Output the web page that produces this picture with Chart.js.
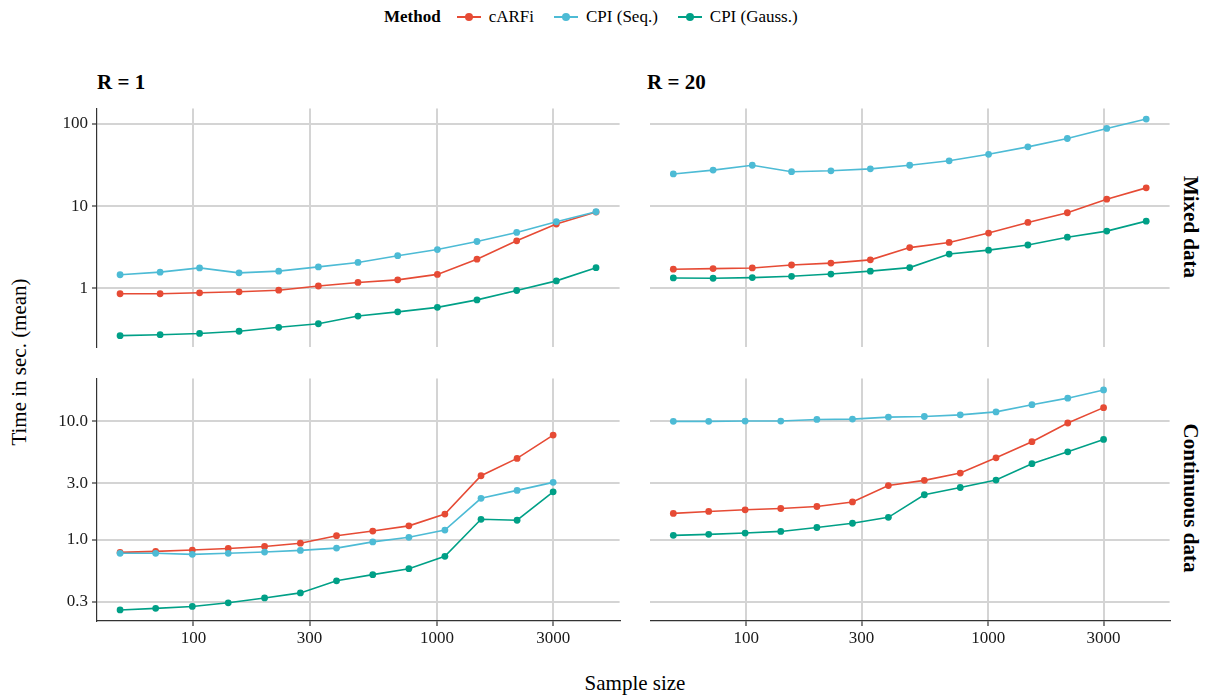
<!DOCTYPE html>
<html>
<head>
<meta charset="utf-8">
<script src="https://cdn.jsdelivr.net/npm/chart.js@4/dist/chart.umd.min.js"></script>
<style>
  html, body { margin: 0; padding: 0; background: #fff; }
  body { width: 1210px; height: 696px; position: relative; overflow: hidden; font-family: 'Liberation Serif', 'DejaVu Serif', 'Noto Serif', 'Times New Roman', Times, serif; color: #000; }
  canvas { position: absolute; }
  .txt { position: absolute; white-space: nowrap; }
  .strip { font-weight: bold; font-size: 21px; }
  .legend { position: absolute; top: 4px; left: 384px; height: 26px; display: flex; align-items: center; font-size: 17px; }
  .legend b { margin-right: 14px; }
  .sw { position: relative; width: 28px; height: 20px; display: inline-block; margin-right: 6px; }
  .sw .ln { position: absolute; left: 2px; right: 2px; top: 9px; height: 2px; }
  .sw .dt { position: absolute; left: 10px; top: 6px; width: 8px; height: 8px; border-radius: 50%; }
  .item { display: flex; align-items: center; margin-right: 18px; }
</style>
</head>
<body>
<div class="legend" id="legend"><b>Method</b></div>
<div class="txt strip" style="left:97px; top:70px;">R = 1</div>
<div class="txt strip" style="left:647px; top:70px;">R = 20</div>
<div class="txt strip" style="left:1190px; top:227px; transform: translate(-50%,-50%) rotate(90deg);">Mixed data</div>
<div class="txt strip" style="left:1190px; top:498px; transform: translate(-50%,-50%) rotate(90deg);">Continuous data</div>
<div class="txt" style="left:19px; top:362px; font-size:21px; transform: translate(-50%,-50%) rotate(-90deg);">Time in sec. (mean)</div>
<div class="txt" style="left:635px; top:683px; font-size:21px; transform: translate(-50%,-50%);">Sample size</div>

<canvas id="tl" width="623" height="245" style="left:0px; top:105px;"></canvas>
<canvas id="tr" width="526" height="245" style="left:647px; top:105px;"></canvas>
<canvas id="bl" width="623" height="276" style="left:0px; top:375px;"></canvas>
<canvas id="br" width="526" height="276" style="left:647px; top:375px;"></canvas>

<script>
// ---------- data ----------
const methods = ["cARFi", "CPI (Seq.)", "CPI (Gauss.)"];
const methodColors = ["#E64B35", "#4DBBD5", "#00A087"];

const sizesMixed = [50, 73, 106, 154, 224, 326, 474, 690, 1004, 1460, 2125, 3092, 4500];
const sizesCont  = [50, 70, 99, 139, 196, 275, 387, 545, 767, 1078, 1517, 2133, 3000];

const xTicks = [100, 300, 1000, 3000];
const yTicksMixed = [1, 10, 100];
const yTickLabelsMixed = ["1", "10", "100"];
const yTicksCont = [0.3, 1, 3, 10];
const yTickLabelsCont = ["0.3", "1.0", "3.0", "10.0"];

// Mixed data, R = 1
const carfiMixedR1 = [0.857, 0.857, 0.881, 0.905, 0.947, 1.065, 1.177, 1.265, 1.475, 2.26, 3.78, 6.05, 8.46];
const seqMixedR1   = [1.46, 1.57, 1.77, 1.54, 1.615, 1.82, 2.06, 2.49, 2.96, 3.71, 4.78, 6.45, 8.54];
const gaussMixedR1 = [0.265, 0.272, 0.282, 0.300, 0.335, 0.370, 0.459, 0.516, 0.586, 0.722, 0.939, 1.23, 1.78];

// Mixed data, R = 20
const carfiMixedR20 = [1.705, 1.736, 1.768, 1.918, 2.025, 2.217, 3.126, 3.61, 4.70, 6.33, 8.30, 12.15, 16.67];
const seqMixedR20   = [24.6, 27.4, 31.4, 26.2, 26.9, 28.4, 31.4, 35.6, 42.7, 52.6, 66.5, 88.1, 114.6];
const gaussMixedR20 = [1.336, 1.324, 1.348, 1.398, 1.489, 1.615, 1.784, 2.61, 2.91, 3.36, 4.18, 4.96, 6.56];

// Continuous data, R = 1
const carfiContR1 = [0.780, 0.796, 0.816, 0.842, 0.875, 0.932, 1.079, 1.180, 1.306, 1.642, 3.457, 4.84, 7.61];
const seqContR1   = [0.766, 0.766, 0.751, 0.766, 0.785, 0.811, 0.848, 0.956, 1.045, 1.203, 2.23, 2.60, 3.04];
const gaussContR1 = [0.255, 0.263, 0.273, 0.293, 0.322, 0.355, 0.449, 0.506, 0.568, 0.723, 1.483, 1.456, 2.53];

// Continuous data, R = 20
const carfiContR20 = [1.663, 1.728, 1.784, 1.830, 1.901, 2.078, 2.856, 3.16, 3.64, 4.90, 6.70, 9.63, 12.98];
const seqContR20   = [9.94, 9.94, 10.0, 10.0, 10.32, 10.39, 10.8, 10.93, 11.28, 11.95, 13.75, 15.6, 18.3];
const gaussContR20 = [1.086, 1.107, 1.136, 1.172, 1.265, 1.374, 1.541, 2.39, 2.75, 3.18, 4.37, 5.50, 7.00];

// ---------- legend ----------
const legendEl = document.getElementById('legend');
methods.forEach((m, i) => {
  const it = document.createElement('span');
  it.className = 'item';
  it.innerHTML = '<span class="sw"><span class="ln" style="background:' + methodColors[i] +
    '"></span><span class="dt" style="background:' + methodColors[i] + '"></span></span>' + m;
  legendEl.appendChild(it);
});

// ---------- charts ----------
const FONT = "'Liberation Serif', 'DejaVu Serif', 'Noto Serif', 'Times New Roman', Times, serif";
const GRID = '#d4d4d4';
const AXIS = '#333333';

function makeDatasets(xs, series) {
  return series.map((ys, i) => ({
    label: methods[i],
    data: xs.map((x, k) => ({ x: x, y: ys[k] })),
    borderColor: methodColors[i],
    backgroundColor: methodColors[i],
    borderWidth: 1.6,
    pointRadius: 3.4,
    pointBorderWidth: 0,
    pointHoverRadius: 3.4,
    tension: 0,
    order: 2 - i
  }));
}

function makeChart(id, xs, series, opt) {
  const ctx = document.getElementById(id).getContext('2d');
  return new Chart(ctx, {
    type: 'line',
    data: { datasets: makeDatasets(xs, series) },
    options: {
      responsive: false,
      animation: false,
      devicePixelRatio: 1,
      layout: { padding: 0 },
      plugins: { legend: { display: false }, tooltip: { enabled: false } },
      events: [],
      scales: {
        x: {
          type: 'logarithmic',
          min: 40.2, max: 5623,
          afterBuildTicks: s => { s.ticks = xTicks.map(v => ({ value: v })); },
          afterFit: s => { s.height = opt.showX ? 30 : 0; s.paddingLeft = 0; s.paddingRight = 0; },
          border: { display: opt.showX, color: AXIS, width: 1.2 },
          grid: { color: GRID, lineWidth: 2, drawTicks: opt.showX, tickLength: 5, tickColor: AXIS, tickWidth: 1.2 },
          ticks: {
            display: opt.showX, autoSkip: false, maxRotation: 0, padding: 2,
            color: '#1a1a1a', font: { family: FONT, size: 17 },
            callback: v => String(v)
          }
        },
        y: {
          type: 'logarithmic',
          min: opt.ymin, max: opt.ymax,
          afterBuildTicks: s => { s.ticks = opt.yTicks.map(v => ({ value: v })); },
          afterFit: s => { s.width = opt.showY ? 97 : 0; s.paddingTop = 0; s.paddingBottom = 0; },
          border: { display: opt.showY, color: AXIS, width: 1.2 },
          grid: { color: GRID, lineWidth: 2, drawTicks: opt.showY, tickLength: 5, tickColor: AXIS, tickWidth: 1.2 },
          ticks: {
            display: opt.showY, autoSkip: false, padding: 4,
            color: '#1a1a1a', font: { family: FONT, size: 17 },
            callback: v => { const k = opt.yTicks.indexOf(v); return k >= 0 ? opt.yLabels[k] : ''; }
          }
        }
      }
    }
  });
}

const mixedY = { ymin: 0.195, ymax: 154.5, yTicks: yTicksMixed, yLabels: yTickLabelsMixed };
const contY  = { ymin: 0.2057, ymax: 22.9, yTicks: yTicksCont, yLabels: yTickLabelsCont };

makeChart('tl', sizesMixed, [carfiMixedR1, seqMixedR1, gaussMixedR1], Object.assign({ showX: false, showY: true }, mixedY));
makeChart('tr', sizesMixed, [carfiMixedR20, seqMixedR20, gaussMixedR20], Object.assign({ showX: false, showY: false }, mixedY));
makeChart('bl', sizesCont, [carfiContR1, seqContR1, gaussContR1], Object.assign({ showX: true, showY: true }, contY));
makeChart('br', sizesCont, [carfiContR20, seqContR20, gaussContR20], Object.assign({ showX: true, showY: false }, contY));
</script>
</body>
</html>
